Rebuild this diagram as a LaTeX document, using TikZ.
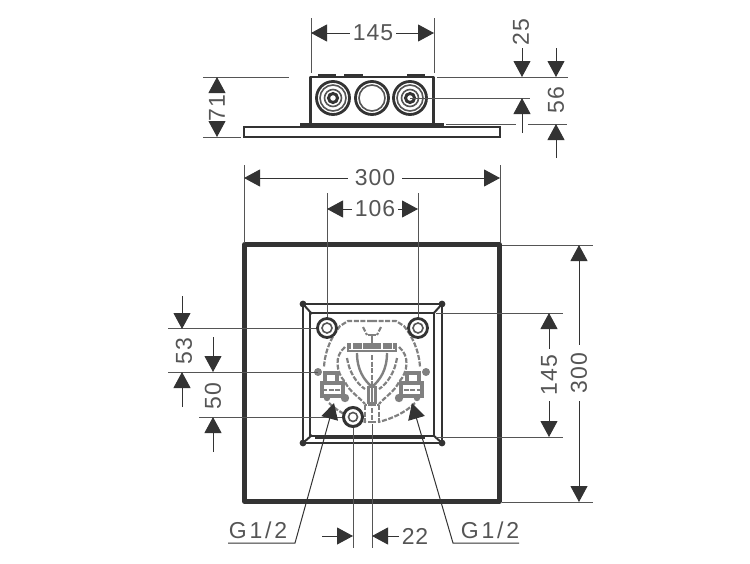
\documentclass[tikz,border=0pt]{standalone}
\usepackage{fontspec}
\setmainfont{Liberation Sans}
\usetikzlibrary{arrows.meta,positioning}
\definecolor{inkdark}{HTML}{333333}
\definecolor{inkline}{HTML}{555555}
\definecolor{inkhidden}{HTML}{808080}
\tikzset{
  dimline/.style={draw=inkdark,line width=1pt,-{Triangle[length=16pt,width=17pt]}},
  extline/.style={draw=inkline,line width=1pt},
  dimtext/.style={font=\fontsize{23}{23}\selectfont\addfontfeature{LetterSpace=4},text=inkline,inner sep=3pt},
  hidden/.style={draw=inkhidden,line width=2.2pt,dash pattern=on 5pt off 1.6pt},
  solidpart/.style={draw=inkhidden,line width=2.4pt},
  ringout/.style={circle,draw=inkdark,line width=2.8pt,inner sep=0pt},
  ringin/.style={circle,draw=inkline,line width=1.6pt,inner sep=0pt}
}
\begin{document}
\begin{tikzpicture}[x=1pt,y=-1pt]
  \useasboundingbox (0,0) rectangle (750,563);

  % side view
  \draw[draw=inkdark,line width=1.8pt,fill=white] (244,127) rectangle (500,137);
  \draw[draw=inkdark,line width=2.6pt,line join=round] (310.5,125) -- (310.5,77) -- (433.5,77) -- (433.5,125);
  \draw[draw=inkdark,line width=3.4pt] (300,125) -- (444,125);
  \draw[draw=inkdark,line width=2.6pt] (318,75.5) -- (336,75.5) (344,75.5) -- (363,75.5) (407,75.5) -- (425,75.5);
  \node[ringout,minimum size=33pt] (port_l) at (333,98) {};
  \node[ringin,minimum size=26pt] at (port_l) {};
  \node[ringin,minimum size=17pt] at (port_l) {};
  \node[ringout,minimum size=9pt,line width=3pt] at (port_l) {};
  \node[ringout,minimum size=33pt] (port_m) at (372,98) {};
  \node[ringin,minimum size=26pt] at (port_m) {};
  \node[ringout,minimum size=33pt] (port_r) at (410,98) {};
  \node[ringin,minimum size=26pt] at (port_r) {};
  \node[ringin,minimum size=17pt] at (port_r) {};
  \node[ringout,minimum size=9pt,line width=3pt] at (port_r) {};

  % plan view
  \draw[draw=inkdark,line width=4.2pt,line join=round] (244.5,244.5) rectangle (499.5,501.5);
  \draw[draw=inkdark,line width=2.6pt,line join=round] (303,304) rectangle (442,443);
  \draw[draw=inkdark,line width=2pt] (310,313) rectangle (434,436);
  \draw[draw=inkdark,line width=2pt] (303,304) -- (312,314) (442,304) -- (433,314) (303,443) -- (312,435) (442,443) -- (433,435);
  \draw[draw=inkdark,line width=3.6pt] (315,437) -- (425,437);
  \fill[inkdark] (303,304) circle[radius=3.4pt] (442,304) circle[radius=3.4pt] (303,443) circle[radius=3.4pt] (442,443) circle[radius=3.4pt];

  % hidden parts, one half and its mirror image
  \foreach \side in {1,-1} {
    \begin{scope}[shift={(372,0)},xscale=\side]
      \draw[hidden] (0,321) -- (-24,321) -- (-32,326) .. controls (-40,336) and (-47,350) .. (-48,367);
      \draw[hidden] (-9,327) -- (-5,335);
      \draw[solidpart] (0,335) -- (0,343) (-4,335) -- (0,335);
      \draw[draw=inkhidden,line width=5.5pt,dash pattern=on 9pt off 1.5pt] (0,346) -- (-24,346);
      \draw[solidpart] (0,351) -- (-24,351) -- (-24,343);
      \draw[solidpart] (-15,353) .. controls (-15,370) and (-8,380) .. (0,387);
      \draw[hidden] (-25,358) .. controls (-23,372) and (-15,384) .. (-7,389);
      \draw[hidden] (-27,347) .. controls (-38,356) and (-36,372) .. (-27,382) .. controls (-22,392) and (-14,396) .. (-7,404);
      \draw[hidden] (0,355) -- (0,387);
      \draw[solidpart] (-3.5,387) rectangle (0,403);
      \draw[hidden] (-7,405) rectangle (0,422);
      \draw[solidpart,line width=3.2pt] (-47,383) -- (-47,373) -- (-35,373) -- (-35,383);
      \draw[solidpart,line width=3.2pt] (-50,383) rectangle (-29,396);
      \draw[hidden] (-50,390) -- (-29,390);
      \fill[inkhidden] (-54,372) circle[radius=4pt] (-27,398) circle[radius=4.2pt] (-45,398) circle[radius=3.2pt];
      \draw[hidden] (-43,403) .. controls (-34,412) and (-20,419) .. (-6,422);
    \end{scope}
  }

  \node[ringout,minimum size=19pt,fill=white] (valve_l) at (327,328) {};
  \node[ringin,minimum size=10pt] at (valve_l) {};
  \node[ringout,minimum size=19pt,fill=white] (valve_r) at (418,328) {};
  \node[ringin,minimum size=10pt] at (valve_r) {};
  \node[ringout,minimum size=19pt,fill=white,line width=3pt] (valve_b) at (353,417) {};
  \node[ringin,minimum size=9pt] at (valve_b) {};

  % extension lines, side view
  \draw[extline] (311,18) coordinate (e_a) -- (311,73) coordinate (e_b);
  \draw[extline] (434,18) coordinate (e_c) -- (434,73) coordinate (e_d);
  \draw[extline] (203,77) coordinate (e_e) -- (289,77) coordinate (e_f);
  \draw[extline] (203,137) coordinate (e_g) -- (241,137) coordinate (e_h);
  \draw[extline] (437,77) coordinate (e_i) -- (568,77) coordinate (e_j);
  \draw[extline] (port_r.center) -- (530,98) coordinate (e_k);
  \draw[extline] (446,124) coordinate (e_l) -- (516,124) coordinate (e_m);
  \draw[extline] (528,124) coordinate (e_n) -- (567,124) coordinate (e_o);

  % extension lines, plan view
  \draw[extline] (244,165) coordinate (f_a) -- (244,243) coordinate (f_b);
  \draw[extline] (500,165) coordinate (f_c) -- (500,243) coordinate (f_d);
  \draw[extline] (327,193) coordinate (f_e) -- (valve_l);
  \draw[extline] (418,193) coordinate (f_f) -- (valve_r);
  \draw[extline] (502,245) coordinate (f_g) -- (593,245) coordinate (f_h);
  \draw[extline] (502,502) coordinate (f_i) -- (593,502) coordinate (f_j);
  \draw[extline] (436,313) coordinate (f_k) -- (563,313) coordinate (f_l);
  \draw[extline] (436,437) coordinate (f_m) -- (563,437) coordinate (f_n);
  \draw[extline] (168,328) coordinate (f_o) -- (valve_l);
  \draw[extline] (168,372) coordinate (f_p) -- (318,372) coordinate (f_q);
  \draw[extline] (199,417) coordinate (f_r) -- (valve_b);
  \draw[extline] (valve_b) -- (353,548) coordinate (f_s);
  \draw[extline] (372,424) coordinate (f_t) -- (372,548) coordinate (f_u);

  % dimensions, side view
  \node[dimtext,inner sep=3pt] (t_145) at (373,33) {145};
  \path (t_145) edge[dimline] (311,33) edge[dimline] (434,33);
  \node[dimtext,rotate=90] (t_71) at (217,108) {71};
  \path (t_71) edge[dimline] (217,77) edge[dimline] (217,137);
  \node[dimtext,rotate=90] (t_25) at (521,32) {25};
  \coordinate (a_25t) at (522,48);
  \coordinate (a_25b) at (522,133);
  \path (a_25t) edge[dimline] (522,77) (a_25b) edge[dimline] (522,98);
  \node[dimtext,rotate=90] (t_56) at (556,100) {56};
  \coordinate (a_56t) at (556,48);
  \coordinate (a_56b) at (556,158);
  \path (a_56t) edge[dimline] (556,77) (a_56b) edge[dimline] (556,124);

  % dimensions, plan view
  \node[dimtext,inner sep=7pt] (t_300h) at (375,178) {300};
  \path (t_300h) edge[dimline] (244,178) edge[dimline] (500,178);
  \node[dimtext] (t_106) at (375,209) {106};
  \path (t_106) edge[dimline] (327,209) edge[dimline] (418,209);
  \node[dimtext,rotate=90,inner sep=8pt] (t_300v) at (579,373) {300};
  \path (t_300v) edge[dimline] (579,245) edge[dimline] (579,502);
  \node[dimtext,rotate=90,inner sep=6pt] (t_145v) at (549,375) {145};
  \path (t_145v) edge[dimline] (549,313) edge[dimline] (549,437);
  \node[dimtext,rotate=90] (t_53) at (184,351) {53};
  \coordinate (a_53t) at (182,296);
  \coordinate (a_53b) at (182,407);
  \path (a_53t) edge[dimline] (182,329) (a_53b) edge[dimline] (182,372);
  \node[dimtext,rotate=90] (t_50) at (213,396) {50};
  \coordinate (a_50t) at (213,337);
  \coordinate (a_50b) at (213,452);
  \path (a_50t) edge[dimline] (213,372) (a_50b) edge[dimline] (213,417);
  \node[dimtext] (t_22) at (415,536) {22};
  \coordinate (a_22l) at (322,536);
  \path (a_22l) edge[dimline] (353,536) (t_22) edge[dimline] (372,536);

  % thread callouts
  \node[dimtext] (t_g_l) at (258,530) {\addfontfeature{LetterSpace=12}G1/2};
  \node[dimtext] (t_g_r) at (490,530) {\addfontfeature{LetterSpace=12}G1/2};
  \coordinate (g_la) at (228,543);
  \coordinate (g_lb) at (295,543);
  \coordinate (g_lc) at (334,403);
  \coordinate (g_ra) at (519,543);
  \coordinate (g_rb) at (453,543);
  \coordinate (g_rc) at (412,403);
  \draw[dimline] (g_la) -- (g_lb) -- (g_lc);
  \draw[dimline] (g_ra) -- (g_rb) -- (g_rc);
\end{tikzpicture}
\end{document}
